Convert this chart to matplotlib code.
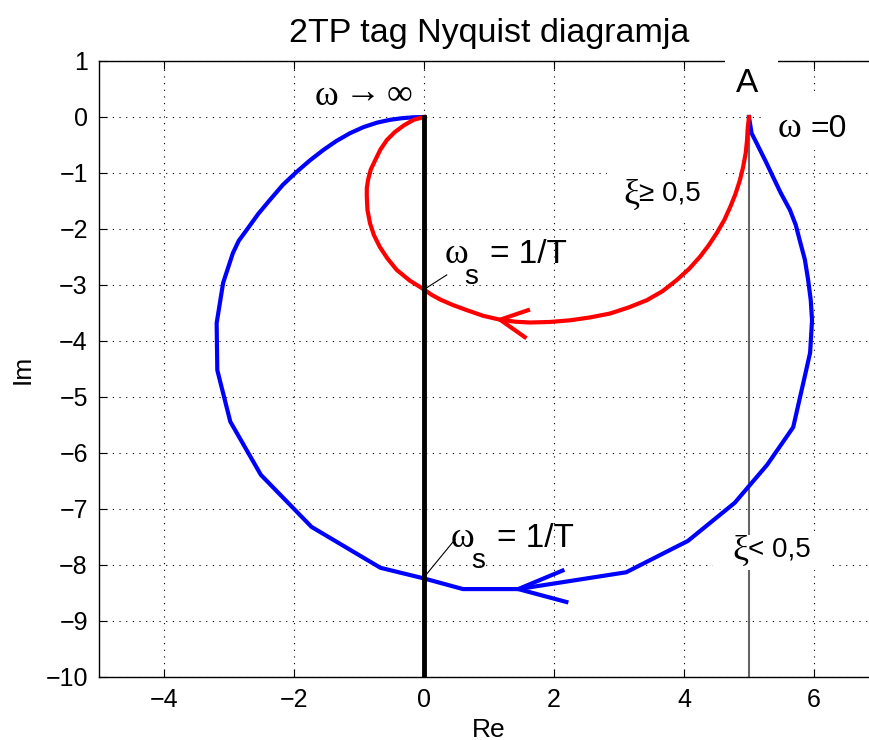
import numpy as np
import matplotlib.pyplot as plt
from matplotlib.patches import Rectangle

# Kék görbe (xi < 0,5): omega = 0-tól (A pont) omega -> végtelenig
re_kek = [5.00, 5.04, 5.11, 5.17, 5.26, 5.37, 5.49, 5.63, 5.72, 5.78, 5.86, 5.91, 5.95,
          5.97, 5.94, 5.88, 5.68, 5.28, 4.78, 4.06, 3.11, 1.45, 0.60, 0.00, -0.67,
          -1.73, -2.51, -2.98, -3.18, -3.19, -3.09, -2.94, -2.85, -2.73, -2.55, -2.37,
          -2.17, -1.96, -1.75, -1.55, -1.35, -1.14, -0.93, -0.72, -0.52, -0.33, -0.16, 0.00]
im_kek = [0.00, -0.29, -0.45, -0.59, -0.80, -1.07, -1.36, -1.66, -1.93, -2.20, -2.55, -2.91,
          -3.27, -3.63, -4.21, -4.52, -5.54, -6.21, -6.89, -7.57, -8.13, -8.43, -8.43, -8.24,
          -8.05, -7.32, -6.39, -5.44, -4.52, -3.68, -2.96, -2.43, -2.21, -2.02, -1.73, -1.48,
          -1.21, -0.98, -0.77, -0.59, -0.43, -0.29, -0.18, -0.10, -0.05, -0.02, -0.005, 0.00]

# Piros görbe (xi >= 0,5)
re_piros = [5.00, 4.98, 4.97, 4.95, 4.91, 4.86, 4.79, 4.71, 4.62, 4.50, 4.38, 4.25, 4.08,
            3.89, 3.67, 3.43, 3.15, 2.86, 2.55, 2.25, 1.94, 1.63, 1.40, 1.17, 0.91, 0.66,
            0.45, 0.25, 0.11, 0.00, -0.22, -0.42, -0.56, -0.68, -0.77, -0.83, -0.87, -0.88,
            -0.88, -0.86, -0.82, -0.75, -0.67, -0.57, -0.45, -0.31, -0.16, 0.00]
im_piros = [0.00, -0.20, -0.41, -0.64, -0.89, -1.13, -1.38, -1.61, -1.84, -2.08, -2.29, -2.49,
            -2.71, -2.91, -3.11, -3.27, -3.40, -3.51, -3.58, -3.63, -3.66, -3.67, -3.655, -3.62,
            -3.55, -3.45, -3.36, -3.26, -3.17, -3.08, -2.92, -2.73, -2.53, -2.32, -2.11, -1.90,
            -1.66, -1.42, -1.27, -1.12, -0.94, -0.77, -0.58, -0.41, -0.27, -0.15, -0.05, 0.00]

# nyilak: szár vége, csúcs, szár vége
nyil_kek = [(2.13, -8.10), (1.45, -8.43), (2.19, -8.66)]
nyil_piros = [(1.60, -3.45), (1.17, -3.62), (1.55, -3.93)]

# omega_s = 1/T metszéspontok a képzetes tengelyen
im_ws = [-3.08, -8.22]

sans = 'Liberation Sans'
serif = 'Liberation Serif'

fig = plt.figure(figsize=(8.7, 7.4), dpi=100)
ax = fig.add_axes([99 / 870, 63 / 740, 780 / 870, 616 / 740])

ax.plot([5, 5], [0, -10], color='#666666', lw=1.5, zorder=1.6)
ax.plot(re_kek, im_kek, color='blue', lw=3, zorder=3, solid_joinstyle='round')
ax.plot(re_piros, im_piros, color='red', lw=3, zorder=3, solid_joinstyle='round')
ax.plot(*zip(*nyil_kek), color='blue', lw=3, zorder=3)
ax.plot(*zip(*nyil_piros), color='red', lw=3, zorder=3)
ax.plot([0, 0], [0, -10], color='black', lw=3.5, zorder=4)

ax.set_xlim(-5, 7)
ax.set_ylim(-10, 1)
ax.set_xticks([-4, -2, 0, 2, 4, 6])
ax.set_yticks(np.arange(-10, 2, 1))
ax.set_xticklabels(['\u22124', '\u22122', '0', '2', '4', '6'])
ax.set_yticklabels(['\u2212%d' % -v if v < 0 else '%d' % v for v in range(-10, 2)])
ax.grid(True, color='black', linestyle=(0, (1, 5)), lw=0.8)
ax.tick_params(direction='in', length=6, top=True, right=True, labelsize=18, pad=8)
for s in ax.spines.values():
    s.set_linewidth(1.0)
for lab in ax.get_xticklabels() + ax.get_yticklabels():
    lab.set_family(sans)

ax.set_title('2TP tag Nyquist diagramja', fontsize=24.5, family=sans, pad=14)
ax.set_xlabel('Re', fontsize=19, family=sans, labelpad=4)
ax.set_ylabel('Im', fontsize=19, family=sans, labelpad=8)


def feher_doboz(x0, x1, y0, y1, z=1.8):
    # fehér háttér a feliratok alá, eltakarja a rácsot
    ax.add_patch(Rectangle((x0, y0), x1 - x0, y1 - y0, facecolor='white',
                           edgecolor='none', zorder=z, clip_on=False))


feher_doboz(-1.80, -0.01, 0.25, 0.97)
feher_doboz(4.63, 5.45, 0.20, 1.20, z=2.6)
feher_doboz(5.22, 7.00, -0.59, 0.39)
feher_doboz(2.82, 4.58, -1.88, -0.97)
feher_doboz(4.45, 6.28, -8.09, -7.46)

ax.text(4.97, 0.59, 'A', fontsize=24, family=sans, ha='center', va='center', zorder=6)

ax.text(5.62, -0.21, '\u03c9', fontsize=26, family=serif, ha='center', va='center', zorder=6)
ax.text(5.94, -0.21, '=0', fontsize=23, family=sans, ha='left', va='center', zorder=6)

ax.text(-1.50, 0.37, '\u03c9', fontsize=26, family=serif, ha='center', va='center', zorder=6)
ax.text(-0.95, 0.41, '\u2192', fontsize=26, family=serif, ha='center', va='center', zorder=6)
ax.text(-0.37, 0.40, '\u221e', fontsize=26, family=serif, ha='center', va='center', zorder=6)

ax.text(3.19, -1.40, '\u03be', fontsize=26, family=serif, ha='center', va='center', zorder=6)
ax.text(3.31, -1.37, '\u2265 0,5', fontsize=20, family=sans, ha='left', va='center', zorder=6)

ax.text(4.87, -7.75, '\u03be', fontsize=26, family=serif, ha='center', va='center', zorder=6)
ax.text(4.98, -7.72, '< 0,5', fontsize=20, family=sans, ha='left', va='center', zorder=6)

# omega_s = 1/T feliratok mutatóvonallal
for y0, dx in zip(im_ws, [0.0, 0.1]):
    yt = y0 + 0.62 + (0.07 if dx else 0.0)
    ax.plot([0, 0.35 + dx * 1.3], [y0, y0 + 0.26 + dx * 4.2], color='black', lw=0.8, zorder=5)
    ax.text(0.50 + dx, yt, '\u03c9', fontsize=26, family=serif, ha='center', va='center', zorder=6)
    ax.text(0.73 + dx, yt - 0.40, 's', fontsize=20, family=sans, ha='center', va='center', zorder=6)
    ax.text(1.02 + dx, yt, '= 1/T', fontsize=24, family=sans, ha='left', va='center', zorder=6)

fig.savefig('out.png', dpi=100)
